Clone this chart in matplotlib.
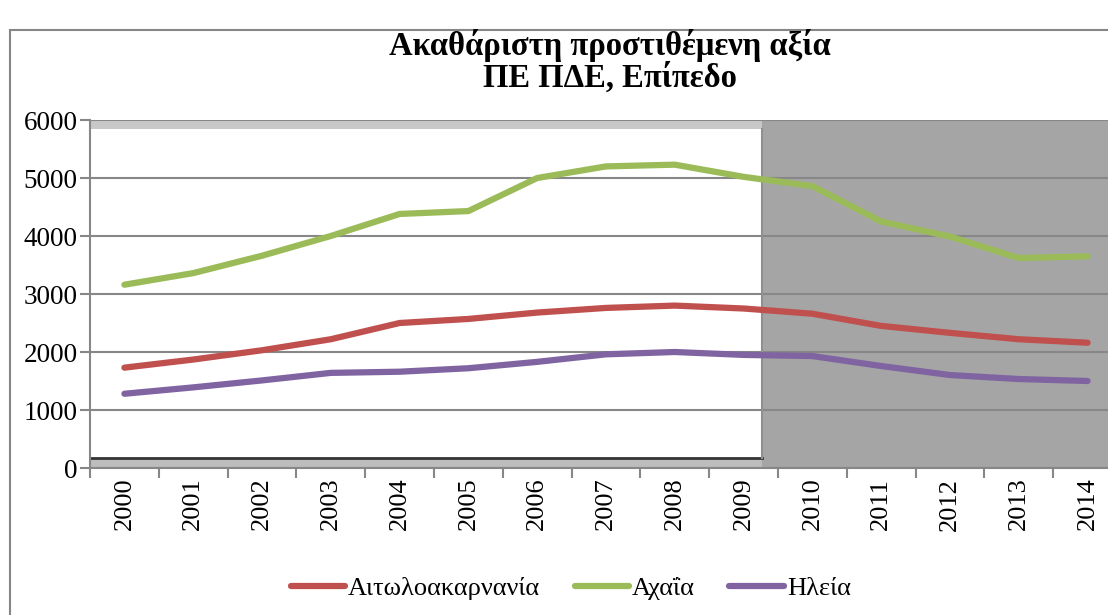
import numpy as np
import matplotlib.pyplot as plt
from matplotlib.patches import Rectangle

# Data
years = [str(y) for y in range(2000, 2015)]
aitoloakarnania = [1730, 1870, 2030, 2220, 2500, 2570, 2680, 2760, 2800, 2750,
                   2660, 2450, 2330, 2220, 2160]
achaia = [3160, 3360, 3660, 4000, 4380, 4430, 5000, 5200, 5230, 5020,
          4860, 4250, 3990, 3620, 3650]
ileia = [1280, 1390, 1510, 1640, 1660, 1720, 1830, 1960, 2000, 1950,
         1930, 1758, 1603, 1534, 1500]
series_names = ['Αιτωλοακαρνανία', 'Αχαΐα', 'Ηλεία']
colors = ['#c0504d', '#9bbb59', '#8064a2']

plt.rcParams['font.family'] = ['Liberation Serif', 'DejaVu Serif']

fig = plt.figure(figsize=(11.08, 6.15), dpi=100)

# outer chart frame
fig.patches.append(Rectangle((10 / 1108, -0.01), 1.0, 1 - 30 / 615 + 0.01,
                             transform=fig.transFigure, fill=False,
                             edgecolor='#868686', linewidth=1.5))

ax = fig.add_axes([90 / 1108, (615 - 468) / 615, 1 - 90 / 1108, 348 / 615])
x = np.arange(len(years))
right = 14.5 - (1122 - 1108) / 68.86

ax.set_yticks(range(0, 6001, 1000))
ax.grid(axis='y', color='#878787', linewidth=1.5, zorder=0.5)
ax.set_axisbelow(True)

for vals, name, c in zip([aitoloakarnania, achaia, ileia], series_names, colors):
    ax.plot(x, vals, color=c, linewidth=4.5, solid_capstyle='round', label=name, zorder=3)

ax.set_xticks(x)
ax.set_xticklabels(years, rotation=90, fontsize=19)
ax.set_xticks(np.arange(-0.5, 15, 1), minor=True)
ax.tick_params(axis='x', which='major', length=0, pad=7)
ax.tick_params(axis='x', which='minor', length=7, color='#878787', width=1.5)
ax.tick_params(axis='y', labelsize=19.5, length=7, color='#878787', width=1.5, pad=2)

# limits after ticks so the minor ticks do not widen the view
ax.set_xlim(-0.5, right)
ax.set_ylim(0, 6000)

# shaded forecast area and the white inset
shade_start = 9.27
frac = (shade_start + 0.5) / (right + 0.5)
ax.axvspan(shade_start, right, color='#a5a5a5', zorder=0, lw=0)
ax.axhspan(5850, 6000, xmin=0, xmax=frac, color='#c8c8c8', zorder=0, lw=0)
ax.axhspan(0, 170, xmin=0, xmax=frac, color='#bdbdbd', zorder=0, lw=0)
ax.plot([-0.5, shade_start], [170, 170], color='#333333', lw=2, zorder=1)
ax.plot([shade_start, shade_start], [170, 5850], color='#909090', lw=1.5, zorder=1)

for side in ['top', 'right']:
    ax.spines[side].set_visible(False)
ax.spines['left'].set_color('#878787')
ax.spines['left'].set_linewidth(1.5)
ax.spines['bottom'].set_color('#878787')
ax.spines['bottom'].set_linewidth(1.5)

fig.text(0.5505, 1 - 46 / 615, 'Ακαθάριστη προστιθέμενη αξία', ha='center', va='center',
         fontsize=23.5, fontweight='bold')
fig.text(0.5505, 1 - 78 / 615, 'ΠΕ ΠΔΕ, Επίπεδο', ha='center', va='center',
         fontsize=23.5, fontweight='bold')

fig.legend(loc='center', bbox_to_anchor=(0.515, 1 - 588 / 615), ncol=3, frameon=False,
           fontsize=19, handlelength=2.08, handletextpad=0.1, columnspacing=1.3)

fig.savefig('out.png', dpi=100)
